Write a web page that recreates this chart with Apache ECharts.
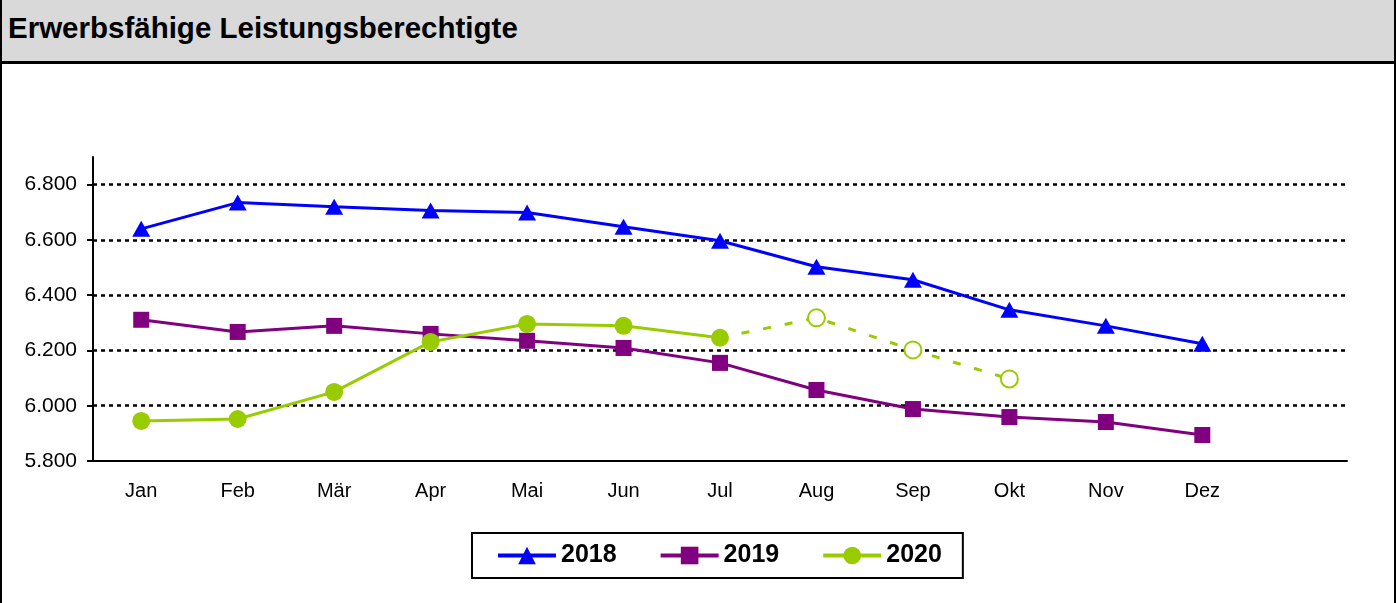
<!DOCTYPE html>
<html>
<head>
<meta charset="utf-8">
<script src="https://cdn.jsdelivr.net/npm/echarts@6/dist/echarts.min.js"></script>
<style>
  html, body { margin: 0; padding: 0; background: #fff; }
  #frame {
    position: relative; width: 1396px; height: 603px; box-sizing: border-box;
    border-left: 2px solid #000; border-right: 2px solid #000; overflow: hidden;
  }
  #head {
    position: absolute; left: 0; top: 0; right: 0; height: 61px;
    background: #d9d9d9; border-bottom: 3px solid #000;
    font: bold 29.5px "Liberation Sans", Arial, sans-serif; color: #000;
    line-height: 56px; padding-left: 6px; box-sizing: content-box;
  }
  #chart { position: absolute; left: -2px; top: 0; width: 1396px; height: 603px; }
</style>
</head>
<body>
<div id="frame">
  <div id="chart"></div>
  <div id="head">Erwerbsfähige Leistungsberechtigte</div>
</div>
<script>
  // Monate (13. Feld bleibt leer wie im Original)
  const months = ['Jan', 'Feb', 'Mär', 'Apr', 'Mai', 'Jun', 'Jul', 'Aug', 'Sep', 'Okt', 'Nov', 'Dez', ''];

  const values2018 = [6640, 6735, 6720, 6706, 6699, 6648, 6597, 6503, 6456, 6347, 6289, 6224];
  const values2019 = [6311, 6267, 6289, 6260, 6235, 6209, 6155, 6057, 5988, 5959, 5941, 5894];
  const values2020 = [5945, 5952, 6050, 6231, 6296, 6289, 6246];
  // Prognose ab Jul (gestrichelt)
  const forecast2020 = [null, null, null, null, null, null, 6246, 6318, 6202, 6097];

  const font = '"Liberation Sans", Arial, sans-serif';

  const chart = echarts.init(document.getElementById('chart'));

  const options = {
    animation: false,
    grid: { left: 93, right: 49, top: 157, bottom: 142 },
    legend: {
      data: ['2018', '2019', '2020'],
      left: 472,
      top: 533,
      padding: [10, 21, 10, 24],
      itemGap: 42,
      itemWidth: 58,
      itemHeight: 22,
      lineStyle: { width: 4 },
      borderColor: '#000',
      borderWidth: 2,
      textStyle: { fontFamily: font, fontWeight: 'bold', fontSize: 25, color: '#000' }
    },
    xAxis: {
      type: 'category',
      data: months,
      boundaryGap: true,
      axisLine: { lineStyle: { color: '#000', width: 2 } },
      axisTick: { length: 6, lineStyle: { color: '#000', width: 2 } },
      axisLabel: { color: '#000', fontFamily: font, fontSize: 20, margin: 20 }
    },
    yAxis: {
      type: 'value',
      min: 5800,
      max: 6900,
      interval: 200,
      axisLine: { show: true, lineStyle: { color: '#000', width: 2 } },
      axisTick: { show: true, length: 6, lineStyle: { color: '#000', width: 2 } },
      axisLabel: {
        color: '#000', fontFamily: font, fontSize: 21, margin: 16, showMaxLabel: false,
        formatter: v => (v > 6800 ? '' : v.toLocaleString('de-DE'))
      },
      splitLine: {
        show: true, showMinLine: false, showMaxLine: false,
        lineStyle: { color: '#000', width: 2.5, type: [4, 4] }
      }
    },
    series: [
      {
        name: '2018', type: 'line', data: values2018,
        symbol: 'triangle', symbolSize: [18, 16],
        itemStyle: { color: '#0000ff' },
        lineStyle: { color: '#0000ff', width: 3 }
      },
      {
        name: '2019', type: 'line', data: values2019,
        symbol: 'rect', symbolSize: 16,
        itemStyle: { color: '#800080' },
        lineStyle: { color: '#800080', width: 3 }
      },
      {
        name: '2020', type: 'line', data: values2020,
        symbol: 'circle', symbolSize: 18,
        itemStyle: { color: '#99cc00' },
        lineStyle: { color: '#99cc00', width: 3 }
      },
      {
        name: '2020 Prognose', type: 'line',
        data: forecast2020.map((v, i) => (i === 6 ? { value: v, symbol: 'none' } : v)),
        symbol: 'emptyCircle',
        symbolSize: 17,
        showAllSymbol: true,
        itemStyle: { color: '#99cc00', borderColor: '#99cc00', borderWidth: 2 },
        lineStyle: { color: '#99cc00', width: 3, type: [8, 14] },
        z: 1
      }
    ]
  };

  chart.setOption(options);
</script>
</body>
</html>
